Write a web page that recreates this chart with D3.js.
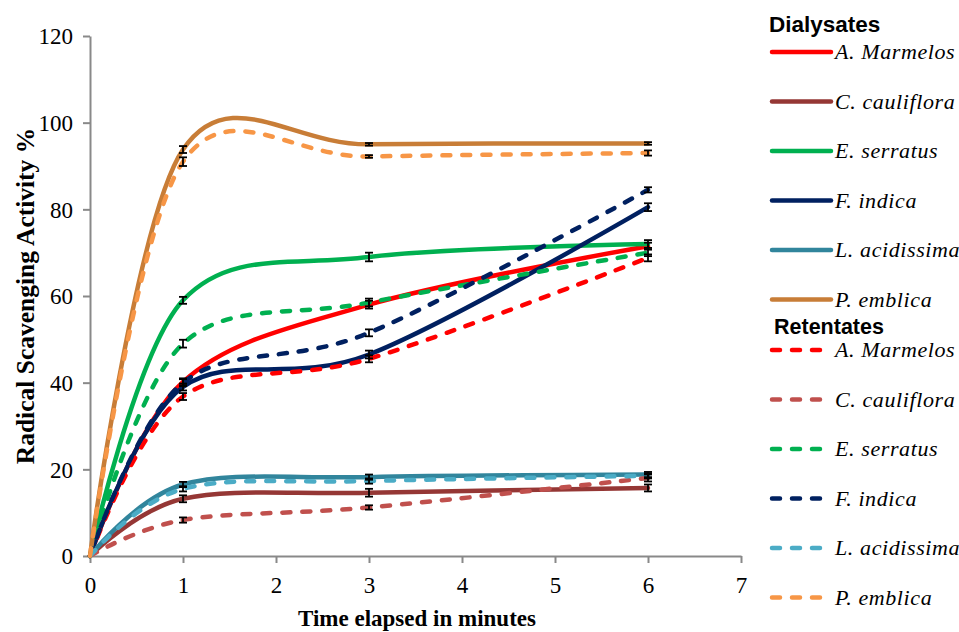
<!DOCTYPE html>
<html><head><meta charset="utf-8">
<script src="https://cdn.jsdelivr.net/npm/d3@7"></script>
<style>body{margin:0;background:#fff}svg{display:block}</style>
</head><body>
<svg id="c" width="959" height="632"></svg>
<script>
// ---- data ----
const times = [0, 1, 3, 6];
const speciesNames = ["A. Marmelos", "C. cauliflora", "E. serratus", "F. indica", "L. acidissima", "P. emblica"];
const xTicks = [0, 1, 2, 3, 4, 5, 6, 7];
const yTicks = [0, 20, 40, 60, 80, 100, 120];

// Dialysates (solid lines)
const dialMarmelos   = [0, 40.2, 58, 71.5];
const dialCauliflora = [0, 13.2, 14.6, 15.7];
const dialSerratus   = [0, 59, 69, 72];
const dialIndica     = [0, 39, 46.5, 80.5];
const dialAcidissima = [0, 16.5, 18.2, 18.8];
const dialEmblica    = [0, 93.8, 95, 95.2];
// Retentates (dashed lines)
const retMarmelos    = [0, 36.8, 45.5, 68.8];
const retCauliflora  = [0, 8.3, 11.2, 18];
const retSerratus    = [0, 49, 58.5, 70];
const retIndica      = [0, 40, 51.5, 84.5];
const retAcidissima  = [0, 15.5, 17.3, 18.5];
const retEmblica     = [0, 91, 92.2, 93];
// error (+/-)
const errDialMarmelos = [0, 0.8, 0.9, 0.8];
const errDialCauliflora = [0, 0.8, 0.9, 0.8];
const errDialSerratus = [0, 0.8, 1.0, 0.9];
const errDialIndica = [0, 0.8, 0.9, 0.9];
const errDialAcidissima = [0, 0.6, 0.6, 0.6];
const errDialEmblica = [0, 0.8, 0.3, 0.3];
const errRetMarmelos = [0, 0.8, 0.8, 0.8];
const errRetCauliflora = [0, 0.6, 0.5, 0.8];
const errRetSerratus = [0, 0.9, 0.9, 0.8];
const errRetIndica = [0, 0.8, 0.8, 0.6];
const errRetAcidissima = [0, 0.6, 0.6, 0.6];
const errRetEmblica = [0, 1.0, 0.3, 0.6];

const dialColors = ["#FF0000", "#953735", "#00B050", "#002060", "#31859C", "#C87D37"];
const retColors  = ["#FF0000", "#C0504D", "#00B050", "#002060", "#4BACC6", "#F79646"];

const dialValues = [dialMarmelos, dialCauliflora, dialSerratus, dialIndica, dialAcidissima, dialEmblica];
const retValues  = [retMarmelos, retCauliflora, retSerratus, retIndica, retAcidissima, retEmblica];
const dialErr = [errDialMarmelos, errDialCauliflora, errDialSerratus, errDialIndica, errDialAcidissima, errDialEmblica];
const retErr  = [errRetMarmelos, errRetCauliflora, errRetSerratus, errRetIndica, errRetAcidissima, errRetEmblica];

// ---- chart ----
const svg = d3.select("#c");
const x = d3.scaleLinear().domain([0, 7]).range([90, 741]);
const y = d3.scaleLinear().domain([0, 120]).range([556, 36]);
const axisColor = "#898989";
const serif = "'Liberation Serif','Times New Roman',serif";
const sans = "'Liberation Sans',Arial,sans-serif";

// axes
const gx = svg.append("g").attr("transform", `translate(0,${y(0)})`)
  .call(d3.axisBottom(x).tickValues(xTicks).tickFormat(d3.format("d")).tickSizeInner(7).tickSizeOuter(0).tickPadding(14));
const gy = svg.append("g").attr("transform", `translate(${x(0)},0)`)
  .call(d3.axisLeft(y).tickValues(yTicks).tickFormat(d3.format("d")).tickSizeInner(7).tickSizeOuter(0).tickPadding(10));
[gx, gy].forEach(g => {
  g.select(".domain").attr("stroke", axisColor).attr("stroke-width", 2);
  g.selectAll(".tick line").attr("stroke", axisColor).attr("stroke-width", 2);
  g.selectAll(".tick text").attr("font-family", serif).attr("font-size", 23).attr("fill", "#000");
});
gy.selectAll(".tick text").attr("dy", "0.34em");

svg.append("text").attr("x", 417).attr("y", 626).attr("text-anchor", "middle")
  .attr("font-family", serif).attr("font-weight", "bold").attr("font-size", 23)
  .text("Time elapsed in minutes");
svg.append("text").attr("transform", `translate(34,296) rotate(-90)`).attr("text-anchor", "middle")
  .attr("font-family", serif).attr("font-weight", "bold").attr("font-size", 25.5)
  .text("Radical Scavenging Activity %");

const line = d3.line().x((d, i) => x(times[i])).y(d => y(d)).curve(d3.curveCardinal.tension(0));

const lines = svg.append("g").attr("fill", "none").attr("stroke-linecap", "round");
dialValues.forEach((vals, k) => {
  lines.append("path").attr("d", line(vals)).attr("stroke", dialColors[k]).attr("stroke-width", 4.5);
});
retValues.forEach((vals, k) => {
  lines.append("path").attr("d", line(vals)).attr("stroke", retColors[k]).attr("stroke-width", 4.5)
    .attr("stroke-dasharray", "8,12");
});

// error bars
const eb = svg.append("g").attr("stroke", "#000").attr("stroke-width", 1.8);
function errorBars(vals, errs) {
  vals.forEach((v, i) => {
    if (!errs[i]) return;
    const cx = x(times[i]), y1 = y(v + errs[i]), y2 = y(v - errs[i]);
    eb.append("line").attr("x1", cx).attr("x2", cx).attr("y1", y1).attr("y2", y2);
    eb.append("line").attr("x1", cx - 4).attr("x2", cx + 4).attr("y1", y1).attr("y2", y1);
    eb.append("line").attr("x1", cx - 4).attr("x2", cx + 4).attr("y1", y2).attr("y2", y2);
  });
}
dialValues.forEach((v, k) => errorBars(v, dialErr[k]));
retValues.forEach((v, k) => errorBars(v, retErr[k]));

// legend
const lg = svg.append("g");
const rowH = 49.5;
lg.append("text").attr("x", 769).attr("y", 32).attr("font-family", sans).attr("font-weight", "bold")
  .attr("font-size", 22.5).text("Dialysates");
speciesNames.forEach((name, k) => {
  const yy = 52 + k * rowH;
  lg.append("line").attr("x1", 772).attr("x2", 831).attr("y1", yy).attr("y2", yy)
    .attr("stroke", dialColors[k]).attr("stroke-width", 4.5).attr("stroke-linecap", "round");
  lg.append("text").attr("x", 835).attr("y", yy + 7).attr("font-family", serif).attr("font-style", "italic")
    .attr("font-size", 22).attr("letter-spacing", 0.6).text(name);
});
lg.append("text").attr("x", 774).attr("y", 334).attr("font-family", sans).attr("font-weight", "bold")
  .attr("font-size", 21.5).text("Retentates");
speciesNames.forEach((name, k) => {
  const yy = 350 + k * rowH;
  lg.append("line").attr("x1", 772).attr("x2", 826).attr("y1", yy).attr("y2", yy)
    .attr("stroke", retColors[k]).attr("stroke-width", 4.5).attr("stroke-linecap", "round")
    .attr("stroke-dasharray", "8,12");
  lg.append("text").attr("x", 835).attr("y", yy + 7).attr("font-family", serif).attr("font-style", "italic")
    .attr("font-size", 22).attr("letter-spacing", 0.6).text(name);
});
</script>
</body></html>
